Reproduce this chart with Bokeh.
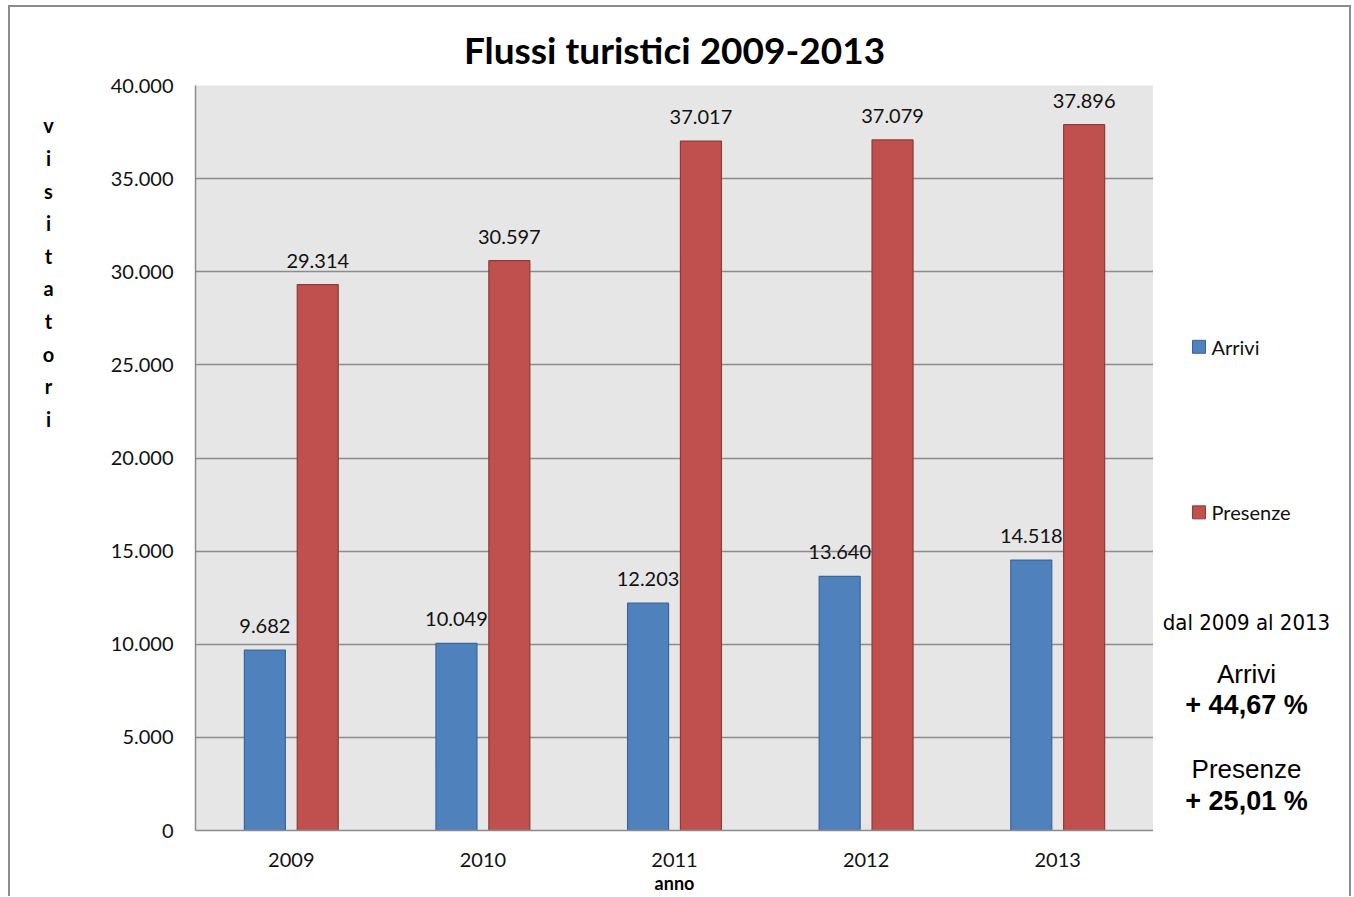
from bokeh.plotting import figure
from bokeh.layouts import row
from bokeh.models import FactorRange, Range1d, ColumnDataSource, FixedTicker
from bokeh.transform import dodge
from bokeh.core.properties import value
from bokeh.embed import file_html
from bokeh.resources import INLINE

years = ["2009", "2010", "2011", "2012", "2013"]
arrivi = [9682, 10049, 12203, 13640, 14518]
presenze = [29314, 30597, 37017, 37079, 37896]
y_ticks = [0, 5000, 10000, 15000, 20000, 25000, 30000, 35000, 40000]
series_names = ["Arrivi", "Presenze"]
title_text = "Flussi turistici 2009-2013"
y_label = "visitatori"
x_label = "anno"
note_lines = ["dal 2009 al 2013", "Arrivi", "+ 44,67 %", "Presenze", "+ 25,01 %"]

BLUE, BLUE_EDGE = "#4f81bd", "#3a659a"
RED, RED_EDGE = "#c0504d", "#8e3b39"
H = 889
TOP, BOTTOM = 78, 64          # borders of the main chart (frame spans page y 85..832)


def fmt(v):
    return f"{v:,}".replace(",", ".")


src = ColumnDataSource(dict(
    year=years, arrivi=arrivi, presenze=presenze,
    arrivi_t=[fmt(v) for v in arrivi], presenze_t=[fmt(v) for v in presenze],
))

# ---------------- main chart ----------------
p = figure(width=1063, height=H, x_range=FactorRange(*years, range_padding=0),
           y_range=Range1d(0, 40000), output_backend="svg", toolbar_location=None,
           min_border_left=105, min_border_right=0, min_border_top=TOP,
           min_border_bottom=BOTTOM)
p.background_fill_color = "#e6e6e6"
p.border_fill_color = "white"
p.outline_line_color = None

p.title.text = title_text
p.title.align = "center"
p.title.standoff = 27
p.title.text_font = "Lato"
p.title.text_font_style = "bold"
p.title.text_font_size = "37px"
p.title.text_color = "black"

p.xgrid.grid_line_color = None
p.ygrid.grid_line_color = "#8c8c8c"
p.ygrid.grid_line_width = 1.5

p.yaxis.ticker = FixedTicker(ticks=y_ticks)
p.yaxis.major_label_overrides = {t: fmt(t) for t in y_ticks}
p.yaxis.axis_line_color = "#8c8c8c"
p.yaxis.axis_line_width = 1.5
p.yaxis.major_tick_line_color = None
p.yaxis.major_tick_out = 0
p.yaxis.major_tick_in = 0
p.yaxis.minor_tick_line_color = None
p.yaxis.major_label_standoff = 22
p.xaxis.axis_line_color = "#8c8c8c"
p.xaxis.axis_line_width = 1.5
p.xaxis.major_tick_line_color = None
p.xaxis.major_tick_out = 0
p.xaxis.major_tick_in = 0
p.xaxis.major_label_standoff = 22
p.xaxis.axis_label = x_label
p.xaxis.axis_label_standoff = 2
p.xaxis.axis_label_text_font = "Lato"
p.xaxis.axis_label_text_font_style = "bold"
p.xaxis.axis_label_text_font_size = "18px"
p.xaxis.axis_label_text_color = "black"
for ax in (p.xaxis, p.yaxis):
    ax.major_label_text_font = "Lato"
    ax.major_label_text_font_size = "20px"
    ax.major_label_text_color = "#111111"

off = 0.138
bw = 0.214
p.vbar(x=dodge("year", -off, range=p.x_range), top="arrivi", width=bw, source=src,
       fill_color=BLUE, line_color=BLUE_EDGE, line_width=1.2)
p.vbar(x=dodge("year", off, range=p.x_range), top="presenze", width=bw, source=src,
       fill_color=RED, line_color=RED_EDGE, line_width=1.2)

for col, tcol, o in (("arrivi", "arrivi_t", -off), ("presenze", "presenze_t", off)):
    p.text(x=dodge("year", o, range=p.x_range), y=col, text=tcol, source=src,
           text_align="center", text_baseline="alphabetic", y_offset=-24,
           text_font=value("Lato"), text_font_style="normal", text_font_size="20px",
           text_color="#111111")


def strip(x0, x1):
    """A side strip whose frame is aligned with the main frame; ranges in page pixels."""
    f = figure(width=x1 - x0, height=H, x_range=Range1d(x0, x1), y_range=Range1d(832, 85),
               x_axis_type=None, y_axis_type=None, output_backend="svg",
               toolbar_location=None, min_border_left=0, min_border_right=0,
               min_border_top=TOP, min_border_bottom=BOTTOM)
    f.outline_line_color = None
    f.grid.visible = False
    return f


# ---------------- left strip: vertical letters ----------------
left = strip(10, 90)
letters = list(y_label)
left.text(x=[48] * len(letters), y=[125 + i * 32.7 for i in range(len(letters))],
          text=letters, text_align="center", text_baseline="middle",
          text_font=value("Lato"), text_font_style="bold", text_font_size="20px",
          text_color="black")

# ---------------- right strip: legend and notes ----------------
right = strip(1153, 1349)
right.rect(x=[1198.5, 1198.5], y=[347, 513], width=13, height=13,
           width_units="screen", height_units="screen",
           fill_color=[BLUE, RED], line_color=[BLUE_EDGE, RED_EDGE], line_width=1)
right.text(x=[1211, 1211], y=[347, 513], text=series_names, text_align="left",
           text_baseline="middle", text_font=value("Lato"), text_font_size="20px",
           text_color="#111111")

note_y = [623, 675, 706, 770, 802]
note_font = ["DejaVu Sans Condensed, Liberation Sans", "Liberation Sans", "Liberation Sans",
             "Liberation Sans", "Liberation Sans"]
note_style = ["normal", "normal", "bold", "normal", "bold"]
note_size = ["22px", "26px", "27px", "26px", "27px"]
for t, yy, f, s, fs in zip(note_lines, note_y, note_font, note_style, note_size):
    right.text(x=[1246], y=[yy], text=[t], text_align="center", text_baseline="middle",
               text_font=value(f), text_font_style=s, text_font_size=fs, text_color="black")

layout = row(left, p, right, spacing=0)
layout.styles = {
    "border-left": "2px solid #8c8c8c",
    "border-top": "2px solid #8c8c8c",
    "border-right": "2px solid #8c8c8c",
    "margin-left": "8px",
    "margin-top": "5px",
    "background-color": "white",
}

open("out.html", "w").write(file_html(layout, INLINE))
